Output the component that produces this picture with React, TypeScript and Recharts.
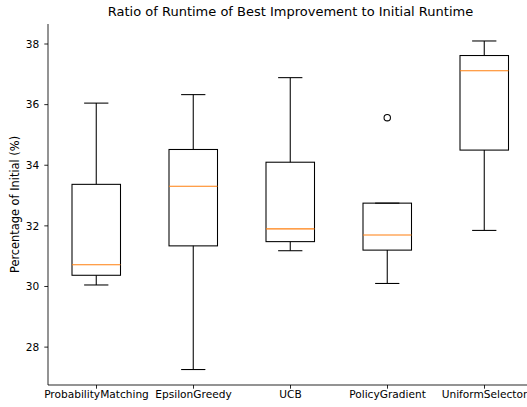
import { ComposedChart, Bar, XAxis, YAxis } from "recharts";

const categories = [
  "ProbabilityMatching",
  "EpsilonGreedy",
  "UCB",
  "PolicyGradient",
  "UniformSelector",
];
const whiskerLow = [30.05, 27.26, 31.18, 30.1, 31.85];
const q1 = [30.37, 31.34, 31.48, 31.2, 34.5];
const median = [30.72, 33.31, 31.9, 31.7, 37.12];
const q3 = [33.37, 34.52, 34.1, 32.75, 37.62];
const whiskerHigh = [36.05, 36.33, 36.89, 32.75, 38.1];
const outliers: number[][] = [[], [], [], [35.57], []];
const yTicks = [28, 30, 32, 34, 36, 38];

const data = categories.map((name, i) => ({
  name,
  range: [whiskerLow[i], whiskerHigh[i]],
  low: whiskerLow[i],
  q1: q1[i],
  median: median[i],
  q3: q3[i],
  high: whiskerHigh[i],
  outliers: outliers[i],
}));

const FONT = "DejaVu Sans, sans-serif";
const LW = 1.06;

// draws one matplotlib-style box from the range bar's pixel extent
const BoxShape = (props: any) => {
  const { x, y, width, height, payload } = props;
  const { low, high } = payload;
  const px = (v: number) =>
    high === low ? y : y + ((high - v) / (high - low)) * height;
  const cx = x + width / 2;
  const capW = width / 2;
  return (
    <g fill="none" stroke="#000" strokeWidth={LW}>
      <line x1={cx} x2={cx} y1={px(high)} y2={px(payload.q3)} />
      <line x1={cx} x2={cx} y1={px(payload.q1)} y2={px(low)} />
      <line x1={cx - capW / 2} x2={cx + capW / 2} y1={px(high)} y2={px(high)} />
      <line x1={cx - capW / 2} x2={cx + capW / 2} y1={px(low)} y2={px(low)} />
      <rect
        x={x}
        y={px(payload.q3)}
        width={width}
        height={px(payload.q1) - px(payload.q3)}
      />
      <line
        x1={x}
        x2={x + width}
        y1={px(payload.median)}
        y2={px(payload.median)}
        stroke="#ff7f0e"
      />
      {payload.outliers.map((o: number, k: number) => (
        <circle key={k} cx={cx} cy={px(o)} r={3.2} />
      ))}
    </g>
  );
};

export default function App() {
  return (
    <div
      style={{
        position: "absolute",
        top: 0,
        left: 0,
        width: 527,
        height: 407,
        overflow: "hidden",
        background: "#fff",
      }}
    >
      <div
        style={{
          position: "absolute",
          top: 4,
          left: 0,
          width: 581,
          textAlign: "center",
          fontFamily: FONT,
          fontSize: 13,
          color: "#000",
        }}
      >
        Ratio of Runtime of Best Improvement to Initial Runtime
      </div>
      <ComposedChart
        width={560}
        height={407}
        data={data}
        margin={{ top: 24, right: 27, left: 0, bottom: 0 }}
      >
        <XAxis
          dataKey="name"
          height={22}
          tickSize={3.7}
          tickMargin={2}
          tick={{ fill: "#000", fontSize: 10.6, fontFamily: FONT }}
          axisLine={{ stroke: "#000", strokeWidth: 0.85 }}
          tickLine={{ stroke: "#000", strokeWidth: 0.85 }}
          interval={0}
        />
        <XAxis
          xAxisId="top"
          orientation="top"
          dataKey="name"
          height={0}
          tick={false}
          tickLine={false}
          axisLine={{ stroke: "#000", strokeWidth: 0.85 }}
        />
        <YAxis
          width={48}
          type="number"
          domain={[26.75, 38.66]}
          ticks={yTicks}
          allowDataOverflow
          tickSize={3.7}
          tickMargin={5}
          tick={{ fill: "#000", fontSize: 10.6, fontFamily: FONT }}
          axisLine={{ stroke: "#000", strokeWidth: 0.85 }}
          tickLine={{ stroke: "#000", strokeWidth: 0.85 }}
          label={{
            value: "Percentage of Initial (%)",
            angle: -90,
            position: "center",
            dx: -9,
            fill: "#000",
            fontSize: 11.4,
            fontFamily: FONT,
          }}
        />
        <Bar
          dataKey="range"
          barSize={48.5}
          shape={<BoxShape />}
          isAnimationActive={false}
        />
      </ComposedChart>
    </div>
  );
}
